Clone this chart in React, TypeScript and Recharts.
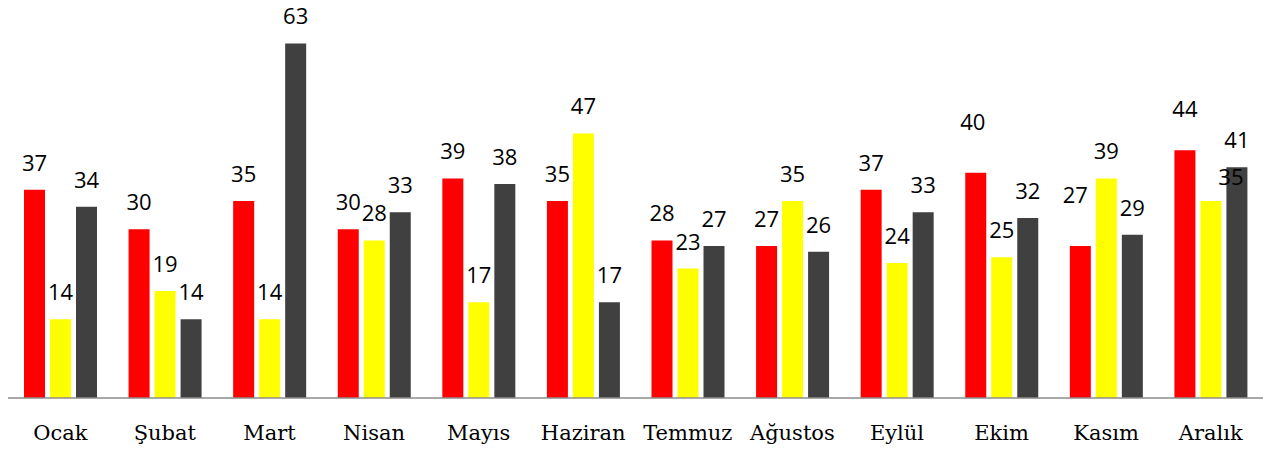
import React from "react";
import { BarChart, Bar, XAxis, YAxis, LabelList } from "recharts";

const months = ["Ocak", "Şubat", "Mart", "Nisan", "Mayıs", "Haziran", "Temmuz", "Ağustos", "Eylül", "Ekim", "Kasım", "Aralık"];
const redValues = [37, 30, 35, 30, 39, 35, 28, 27, 37, 40, 27, 44];
const yellowValues = [14, 19, 14, 28, 17, 47, 23, 35, 24, 25, 39, 35];
const darkValues = [34, 14, 63, 33, 38, 17, 27, 26, 33, 32, 29, 41];

// label nudges (dx, extra dy) for manually moved labels in the original
const labelNudges: Record<string, Record<number, [number, number]>> = {
  red: { 9: [-3, -24], 10: [-5, -24], 11: [0, -14] },
  yellow: { 11: [20, 3] },
  dark: {},
};

const data = months.map((m, i) => ({
  month: m,
  red: redValues[i],
  yellow: yellowValues[i],
  dark: darkValues[i],
}));

const makeLabel = (key: string) => (props: any) => {
  const { x, y, width, value, index } = props;
  const nudge = labelNudges[key][index] || [0, 0];
  return (
    <text
      x={Number(x) + Number(width) / 2 + nudge[0]}
      y={Number(y) - 19 + nudge[1]}
      textAnchor="middle"
      fontFamily="'Open Sans', sans-serif"
      fontSize={22}
      fill="#000"
    >
      {value}
    </text>
  );
};

export default function App() {
  return (
    <div style={{ position: "absolute", left: 0, top: 0, width: 1263, height: 450, background: "#fff" }}>
      <BarChart
        width={1263}
        height={450}
        data={data}
        margin={{ top: 4, right: 0, left: 8, bottom: 0 }}
        barSize={21}
        barGap={5}
      >
        <XAxis
          dataKey="month"
          height={52}
          tickLine={false}
          tickSize={6}
          tickMargin={21}
          axisLine={{ stroke: "#8c8c8c", strokeWidth: 1.5 }}
          tick={{ fontFamily: "'DejaVu Serif', serif", fontSize: 21, fill: "#000" }}
          interval={0}
        />
        <YAxis hide domain={[0, 70]} />
        <Bar dataKey="red" name="Seri 1" fill="#FF0000" isAnimationActive={false}>
          <LabelList dataKey="red" content={makeLabel("red")} />
        </Bar>
        <Bar dataKey="yellow" name="Seri 2" fill="#FFFF00" isAnimationActive={false}>
          <LabelList dataKey="yellow" content={makeLabel("yellow")} />
        </Bar>
        <Bar dataKey="dark" name="Seri 3" fill="#404040" isAnimationActive={false}>
          <LabelList dataKey="dark" content={makeLabel("dark")} />
        </Bar>
      </BarChart>
    </div>
  );
}
